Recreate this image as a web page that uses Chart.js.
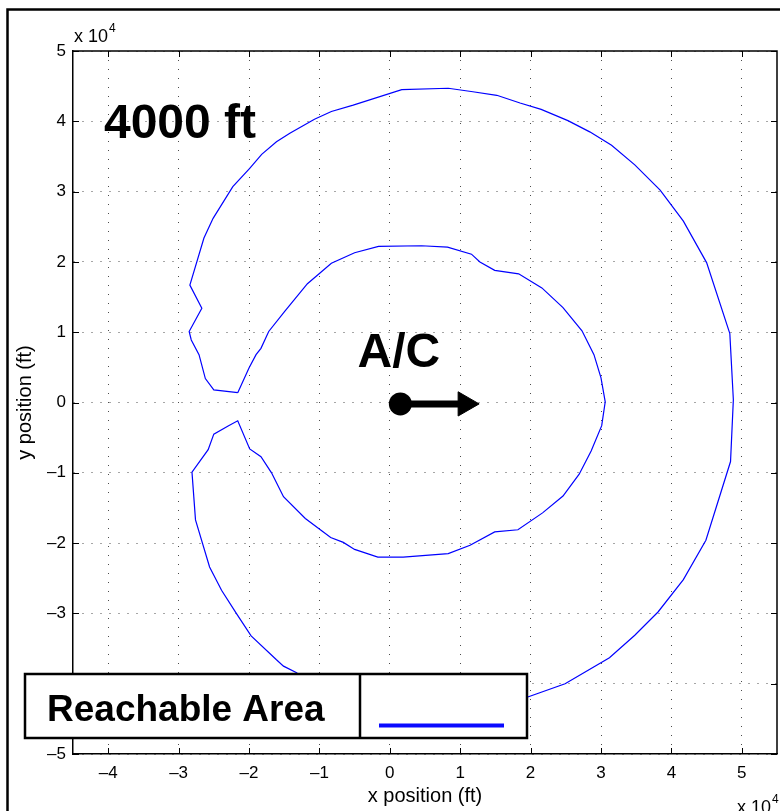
<!DOCTYPE html>
<html>
<head>
<meta charset="utf-8">
<title>Reachable Area - 4000 ft</title>
<script src="https://cdn.jsdelivr.net/npm/chart.js@4.4.1/dist/chart.umd.min.js"></script>
<style>
  html, body { margin: 0; padding: 0; background: #fff; }
  #wrap { width: 780px; height: 811px; position: relative; }
</style>
</head>
<body>
<div id="wrap"><canvas id="reachChart"></canvas></div>
<script>
const FONT = "'Liberation Sans', Arial, Helvetica, sans-serif";

// axis ticks, in units of 10^4 ft
const xTicks = [-4, -3, -2, -1, 0, 1, 2, 3, 4, 5];
const yTicks = [-5, -4, -3, -2, -1, 0, 1, 2, 3, 4, 5];

// reachable area boundary (ft), closed polygon: outer ring, then inner ring
const reachX = [-21600, -25000, -26200, -27100, -28200, -28500, -26700, -28400, -26400, -25100,
  -22300, -19900, -18200, -16100, -14200, -10700, -8300, -5200, 1700, 8300,
  11800, 15200, 18500, 21500, 25300, 28400, 31500, 34800, 38400, 41700,
  45000, 48300, 48800, 48400, 44900, 41700, 38100, 34800, 31200, 24900,
  19600, 15600, 11800, 8200, 1700, -5300, -8200, -10700, -13300, -15100,
  -16100, -19700, -21800, -23900, -25600, -27600, -28100, -25800, -25000, -22900,
  -21600, -19900, -18300, -16800, -15100, -12000, -8400, -6600, -5000, -1700,
  1900, 8300, 11400, 14900, 18200, 21700, 24600, 26900, 28600, 30100,
  30600, 30000, 29000, 27300, 24600, 21600, 18300, 14900, 12800, 11600,
  8200, 4500, -1600, -5000, -8300, -11700, -14900, -17200, -18300, -19000,
  -20000, -21600];
const reachY = [1400, 1800, 3400, 6800, 8900, 10100, 13400, 16700, 23400, 26200,
  30700, 33300, 35300, 37100, 38300, 40300, 41400, 42300, 44500, 44700,
  44200, 43700, 42600, 41700, 40100, 38500, 36600, 33800, 30200, 25800,
  19900, 9800, 400, -8400, -19600, -25200, -29800, -33100, -36300, -40000,
  -41900, -43500, -44200, -44600, -44500, -42300, -41300, -40300, -38400, -37500,
  -36600, -33200, -30000, -26700, -23400, -16700, -9900, -6700, -4500, -3300,
  -2600, -6600, -7700, -10000, -13400, -16500, -19200, -19900, -20900, -22000,
  -22000, -21500, -20300, -18400, -18100, -15700, -13300, -10200, -6900, -3300,
  100, 3500, 6800, 10200, 13500, 16300, 18300, 18800, 20000, 21100,
  22100, 22300, 22200, 21300, 19800, 16900, 13000, 10100, 7700, 6800,
  4900, 1400];

// aircraft position and heading arrow (ft)
const acX = [1500];
const acY = [-200];
const headingX = [1500, 10700];
const headingY = [-200, -200];

const TICK_LEN = 6;

function tickText(v) {
  const n = Math.round(v / 1e4);
  return n < 0 ? '\u2013' + Math.abs(n) : String(n);
}

function drawExponent(ctx, x, y) {
  ctx.font = '18px ' + FONT;
  ctx.textAlign = 'left';
  ctx.textBaseline = 'alphabetic';
  ctx.fillText('x 10', x, y);
  const w = ctx.measureText('x 10').width;
  ctx.font = '12px ' + FONT;
  ctx.fillText('4', x + w + 1, y - 10);
}

// MATLAB-like axes decoration: box, inward ticks, text labels, legend, figure frame
const matlabAxes = {
  id: 'matlabAxes',
  afterDatasetsDraw(chart) {
    const {ctx, chartArea: a, scales: {x, y}} = chart;
    ctx.save();
    ctx.strokeStyle = '#000';
    ctx.lineWidth = 1.5;
    ctx.beginPath();
    ctx.moveTo(a.left, a.top);
    ctx.lineTo(a.right, a.top);
    ctx.lineTo(a.right, a.bottom);
    ctx.stroke();

    ctx.lineWidth = 1;
    ctx.beginPath();
    x.ticks.forEach(t => {
      const px = Math.round(x.getPixelForValue(t.value)) + 0.5;
      ctx.moveTo(px, a.bottom); ctx.lineTo(px, a.bottom - TICK_LEN);
      ctx.moveTo(px, a.top); ctx.lineTo(px, a.top + TICK_LEN);
    });
    y.ticks.forEach(t => {
      const py = Math.round(y.getPixelForValue(t.value)) + 0.5;
      ctx.moveTo(a.left, py); ctx.lineTo(a.left + TICK_LEN, py);
      ctx.moveTo(a.right, py); ctx.lineTo(a.right - TICK_LEN, py);
    });
    ctx.stroke();

    ctx.fillStyle = '#000';
    ctx.font = 'bold 48px ' + FONT;
    ctx.textBaseline = 'middle';
    ctx.textAlign = 'left';
    ctx.fillText('4000 ft', x.getPixelForValue(-40600), y.getPixelForValue(39500));
    ctx.textAlign = 'center';
    ctx.fillText('A/C', x.getPixelForValue(1300), y.getPixelForValue(7000));
    ctx.restore();
  },
  afterDraw(chart) {
    const {ctx, chartArea: a} = chart;
    ctx.save();
    ctx.fillStyle = '#000';
    drawExponent(ctx, a.left + 1, a.top - 9);
    drawExponent(ctx, a.right - 40, 813);

    // legend box
    ctx.fillStyle = '#fff';
    ctx.fillRect(25, 674, 502, 64);
    ctx.strokeStyle = '#000';
    ctx.lineWidth = 2.5;
    ctx.strokeRect(25, 674, 502, 64);
    ctx.beginPath();
    ctx.moveTo(360, 674);
    ctx.lineTo(360, 738);
    ctx.stroke();
    ctx.fillStyle = '#000';
    ctx.font = 'bold 37px ' + FONT;
    ctx.textAlign = 'left';
    ctx.textBaseline = 'alphabetic';
    ctx.fillText('Reachable Area', 47, 721);
    ctx.strokeStyle = '#0a0aff';
    ctx.lineWidth = 4;
    ctx.beginPath();
    ctx.moveTo(379, 725.5);
    ctx.lineTo(504, 725.5);
    ctx.stroke();

    // figure frame
    ctx.strokeStyle = '#000';
    ctx.lineWidth = 2.5;
    ctx.strokeRect(7.5, 9.5, 800, 840);
    ctx.restore();
  }
};

const ctx = document.getElementById('reachChart').getContext('2d');
const reachChart = new Chart(ctx, {
  type: 'scatter',
  data: {
    datasets: [
      {
        label: 'A/C',
        data: acX.map((v, i) => ({x: v, y: acY[i]})),
        pointRadius: 11.5,
        pointBackgroundColor: '#000',
        pointBorderColor: '#000',
        pointBorderWidth: 0,
        showLine: false
      },
      {
        label: 'Heading',
        data: headingX.map((v, i) => ({x: v, y: headingY[i]})),
        showLine: true,
        borderColor: '#000',
        borderWidth: 7,
        borderCapStyle: 'butt',
        pointRadius: [0, 14],
        pointStyle: 'triangle',
        pointRotation: 90,
        pointBackgroundColor: '#000',
        pointBorderColor: '#000',
        pointBorderWidth: 1
      },
      {
        label: 'Reachable Area',
        data: reachX.map((v, i) => ({x: v, y: reachY[i]})),
        showLine: true,
        borderColor: '#0000ff',
        borderWidth: 1.2,
        pointRadius: 0,
        tension: 0
      }
    ]
  },
  options: {
    responsive: true,
    maintainAspectRatio: false,
    animation: false,
    devicePixelRatio: 1,
    events: [],
    layout: {
      autoPadding: false,
      padding: {left: 0, top: 51, right: 3, bottom: 0}
    },
    plugins: {
      legend: {display: false},
      tooltip: {enabled: false}
    },
    scales: {
      x: {
        type: 'linear',
        position: 'bottom',
        min: -45000,
        max: 55000,
        afterBuildTicks: s => { s.ticks = xTicks.map(v => ({value: v * 1e4})); },
        afterFit: s => { s.height = 57; s.paddingLeft = 0; s.paddingRight = 0; },
        grid: {color: 'rgba(0,0,0,0.7)', lineWidth: 1, drawTicks: false},
        border: {display: true, color: '#000', width: 1.5, dash: [1, 8]},
        ticks: {
          padding: 9,
          color: '#000',
          font: {family: FONT, size: 17},
          maxRotation: 0,
          autoSkip: false,
          callback: v => tickText(v)
        },
        title: {
          display: true,
          text: 'x position (ft)',
          color: '#000',
          font: {family: FONT, size: 20},
          padding: {top: 0, bottom: 3}
        }
      },
      y: {
        type: 'linear',
        position: 'left',
        min: -50000,
        max: 50000,
        afterBuildTicks: s => { s.ticks = yTicks.map(v => ({value: v * 1e4})); },
        afterFit: s => { s.width = 73; s.paddingTop = 0; s.paddingBottom = 0; },
        grid: {color: 'rgba(0,0,0,0.7)', lineWidth: 1, drawTicks: false},
        border: {display: true, color: '#000', width: 1.5, dash: [1, 8]},
        ticks: {
          padding: 7,
          color: '#000',
          font: {family: FONT, size: 17},
          autoSkip: false,
          callback: v => tickText(v)
        },
        title: {
          display: true,
          text: 'y position (ft)',
          color: '#000',
          font: {family: FONT, size: 20},
          padding: {top: 13, bottom: 0}
        }
      }
    }
  },
  plugins: [matlabAxes]
});
</script>
</body>
</html>
